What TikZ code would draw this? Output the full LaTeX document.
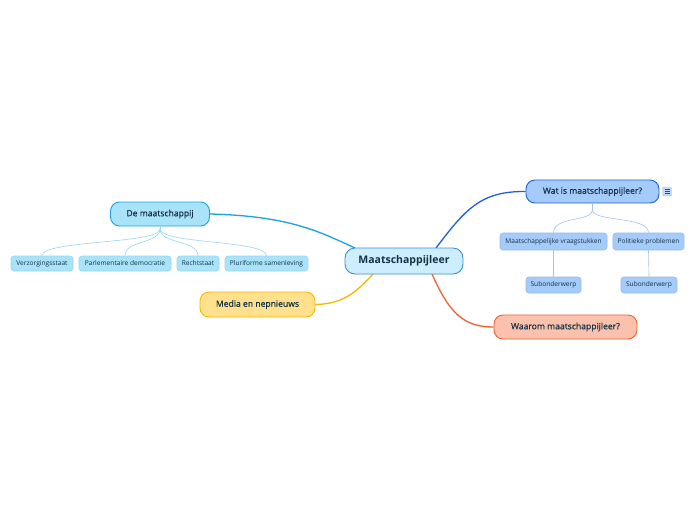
\documentclass[tikz,border=0pt]{standalone}
\usepackage{fontspec}
\setmainfont{Open Sans}
\newfontfamily\semib[FakeBold=0.7]{Open Sans}
\definecolor{cfill}{HTML}{CDEEFF}
\definecolor{cdraw}{HTML}{3A8ED6}
\definecolor{dfill}{HTML}{A9E3F9}
\definecolor{ddraw}{HTML}{1AA3E2}
\definecolor{mfill}{HTML}{FFE08C}
\definecolor{mdraw}{HTML}{F5B800}
\definecolor{wfill}{HTML}{A4CBF9}
\definecolor{wdraw}{HTML}{1F62CF}
\definecolor{rfill}{HTML}{FAC2AE}
\definecolor{rdraw}{HTML}{F2602C}
\definecolor{txt}{HTML}{163246}
\begin{document}
\begin{tikzpicture}[x=1pt,y=-1pt,
  base/.style={rounded corners=#1, inner sep=0pt, text=txt, line width=0.9pt},
  central/.style={base=10pt, draw=cdraw, fill=cfill, minimum width=118pt, minimum height=26pt, font=\fontsize{10.5}{12}\selectfont\bfseries},
  mfont/.style={font=\semib\fontsize{8.6}{10}\selectfont},
  mainD/.style={base=9pt, draw=ddraw, fill=dfill, minimum height=24pt, mfont},
  mainM/.style={base=9pt, draw=mdraw, fill=mfill, minimum height=25pt, mfont},
  mainW/.style={base=9pt, draw=wdraw, fill=wfill, minimum height=23pt, mfont},
  mainR/.style={base=9pt, draw=rdraw, fill=rfill, minimum height=24pt, mfont},
  subD/.style={rounded corners=3pt, inner sep=0pt, draw=ddraw!45, fill=dfill, line width=0.6pt, minimum height=15pt, text=txt, font=\fontsize{6.6}{8}\selectfont},
  subW/.style={rounded corners=3pt, inner sep=0pt, draw=wdraw!45, fill=wfill, line width=0.6pt, minimum height=17pt, text=txt, font=\fontsize{6.6}{8}\selectfont},
  lineD/.style={draw=ddraw!45, line width=0.6pt},
  lineW/.style={draw=wdraw!40, line width=0.6pt}
]
\useasboundingbox (0,0) rectangle (696,520);
\fill[white] (0,0) rectangle (696,520);

\coordinate (cD) at (355,248);
\coordinate (cM) at (373,274);
\coordinate (cW) at (436,248);
\coordinate (cR) at (432,274);

\node[mainD, minimum width=99pt] (d) at (160,214) {De maatschappij};
\node[mainM, minimum width=115pt] (m) at (257.5,304.5) {Media en nepnieuws};
\node[mainW, minimum width=133pt] (w) at (592.5,191.5) {Wat is maatschappijleer?};
\node[mainR, minimum width=143pt] (r) at (565.5,327) {Waarom maatschappijleer?};

\draw[ddraw, line width=1.3pt] (d.east) .. controls (290,216) and (320,232) .. (cD);
\draw[mdraw, line width=1.3pt] (m.east) .. controls (345,304) and (358,290) .. (cM);
\draw[wdraw, line width=1.3pt] (cW) .. controls (465,210) and (480,191) .. (w.west);
\draw[rdraw, line width=1.3pt] (cR) .. controls (450,315) and (465,327) .. (r.west);

\node[central] (c) at (404,261) {Maatschappijleer};

% De maatschappij children
\node[subD, minimum width=62pt] (d1) at (42,263.5) {Verzorgingsstaat};
\node[subD, minimum width=92pt] (d2) at (125,263.5) {Parlementaire democratie};
\node[subD, minimum width=42pt] (d3) at (198,263.5) {Rechtstaat};
\node[subD, minimum width=83pt] (d4) at (266.5,263.5) {Pluriforme samenleving};
\coordinate (dB) at (160,229);
\draw[lineD] (d.south) -- (dB);
\draw[lineD] (dB) .. controls (160,244) and (42,240) .. (d1.north);
\draw[lineD] (dB) .. controls (160,244) and (125,240) .. (d2.north);
\draw[lineD] (dB) .. controls (160,244) and (198,240) .. (d3.north);
\draw[lineD] (dB) .. controls (160,244) and (266,240) .. (d4.north);

% Wat is children
\node[subW, minimum width=107pt] (w1) at (553.5,241.5) {Maatschappelijke vraagstukken};
\node[subW, minimum width=71pt] (w2) at (648.5,241.5) {Politieke problemen};
\node[subW, minimum width=55pt, minimum height=16pt] (s1) at (553.5,285) {Subonderwerp};
\node[subW, minimum width=56pt, minimum height=16pt] (s2) at (649,285) {Subonderwerp};
\coordinate (wB) at (592.5,210);
\draw[lineW] (w.south) -- (wB);
\draw[lineW] (wB) .. controls (592.5,222) and (553.5,216) .. (w1.north);
\draw[lineW] (wB) .. controls (592.5,222) and (648.5,216) .. (w2.north);
\draw[lineW] (w1.south) -- (s1.north);
\draw[lineW] (w2.south) -- (s2.north);

% note icon
\node[draw=wdraw!35, fill=wfill!70, rounded corners=1pt, minimum width=9pt, minimum height=9pt, inner sep=0pt] (icon) at (667,191.5) {};
\foreach \yy in {-2,0,2} \draw[wdraw!80!black, line width=0.6pt] ([xshift=-2.5pt,yshift=\yy pt]icon.center) -- ([xshift=2.5pt,yshift=\yy pt]icon.center);
\end{tikzpicture}
\end{document}
